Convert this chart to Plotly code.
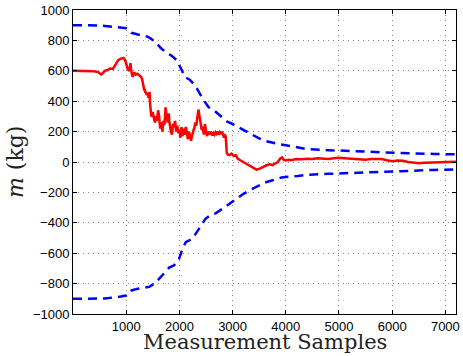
import plotly.graph_objects as go

# Estimated mass (red)
est_x = ([0, 100, 200, 300, 400, 480, 530, 560, 600, 650, 700, 750, 800, 850, 900, 950, 980, 1000,
          1030, 1060, 1080, 1100, 1120, 1150, 1180, 1210, 1250, 1280]
         + list(range(1300, 2610, 10))
         + [2620, 2640, 2660, 2680, 2700, 2720, 2740, 2760, 2780, 2800, 2820, 2840, 2860, 2870, 2880,
            2890, 2910, 2940, 2980, 3020, 3060, 3100, 3150, 3200, 3250, 3300,
            3350, 3400, 3450, 3500, 3550, 3600, 3650, 3700, 3750, 3800, 3850, 3900, 3930, 3960, 4000,
            4050, 4100, 4200, 4300, 4400, 4500, 4600, 4700, 4800, 4900, 5000, 5100, 5200, 5300, 5400,
            5500, 5600, 5700, 5800, 5900, 6000, 6100, 6200, 6300, 6400, 6500, 6600, 6700, 6800, 6900,
            7000, 7100, 7200])
est_y = [600, 600, 600, 598, 597, 590, 575, 585, 600, 605, 615, 612, 640, 670, 680, 685, 670, 640,
         610, 600, 650, 590, 560, 590, 575, 580, 570, 560,
         # 1300 .. 2600 step 10
         545, 530, 515, 490, 470, 480, 455, 460, 445, 455,
         440, 450, 420, 445, 460, 380, 320, 305, 300, 320,
         330, 305, 290, 275, 260, 285, 300, 270, 280, 310,
         340, 320, 300, 250, 220, 245, 260, 230, 200, 240,
         270, 245, 250, 300, 360, 330, 300, 280, 260, 290,
         320, 270, 230, 215, 200, 190, 180, 215, 250, 235,
         230, 255, 270, 230, 200, 225, 240, 210, 190, 205,
         210, 180, 160, 200, 230, 195, 170, 200, 220, 195,
         180, 210, 230, 215, 200, 170, 150, 180, 200, 185,
         170, 150, 140, 160, 180, 190, 200, 215, 220, 245,
         260, 250, 240, 275, 300, 330, 345, 320, 290, 275,
         260, 235, 210, 225, 230, 200, 180, 215, 250, 225,
         200, 185, 170, 190, 200, 185, 180, 195, 185, 200,
         190,
         # 2620 ..
         175, 190, 180, 195, 185, 200, 180, 195, 185, 200, 175, 160, 175, 170, 120,
         60, 50, 45, 55, 40, 45, 20, 10, 0, -15, -25,
         -35, -40, -50, -45, -35, -30, -20, -15, -20, -10, 0, 25, 30, 15, 10,
         15, 12, 20, 18, 22, 20, 25, 22, 20, 25, 28, 25, 22, 20, 18,
         15, 20, 22, 20, 12, 5, 10, 8, 0, -5, -8, -5, -3, -2, 0,
         2, 0, 2]

# Upper bound (blue dashed)
up_x = [0, 300, 600, 900, 1000, 1050, 1100, 1200, 1300, 1400, 1450, 1550, 1650, 1750, 1850, 1950,
        2050, 2100, 2200, 2300, 2400, 2450, 2550, 2650, 2800, 2900, 3000, 3100, 3200, 3300, 3400,
        3500, 3600, 3700, 3800, 3900, 4000, 4200, 4400, 4800, 5200, 5600, 6000, 6400, 6800, 7200]
up_y = [900, 900, 895, 885, 880, 870, 850, 840, 832, 825, 815, 790, 750, 720, 700, 670,
        600, 560, 540, 500, 440, 410, 360, 340, 295, 265, 250, 230, 210, 190, 170,
        155, 140, 130, 125, 115, 110, 95, 85, 78, 72, 65, 60, 56, 53, 50]

# Lower bound (blue dashed)
lo_x = [0, 300, 600, 900, 1000, 1050, 1100, 1200, 1300, 1435, 1550, 1620, 1700, 1808, 1900, 1995,
        2060, 2120, 2245, 2370, 2490, 2580, 2680, 2800, 2930, 3050, 3180, 3300, 3490, 3610, 3750,
        3920, 4230, 4360, 4800, 5200, 5480, 6000, 6400, 6800, 7200]
lo_y = [-900, -900, -898, -885, -878, -868, -845, -835, -828, -821, -795, -767, -740, -695, -680, -636,
        -570, -527, -505, -440, -374, -350, -338, -310, -277, -244, -215, -190, -157, -135, -120,
        -102, -92, -85, -78, -72, -70, -62, -57, -52, -48]

x_ticks = [1000, 2000, 3000, 4000, 5000, 6000, 7000]
y_ticks = [-1000, -800, -600, -400, -200, 0, 200, 400, 600, 800, 1000]

fig = go.Figure()
fig.add_trace(go.Scatter(x=up_x, y=up_y, mode="lines",
                         line=dict(color="#0000ff", width=2.5, dash="9px,6px")))
fig.add_trace(go.Scatter(x=lo_x, y=lo_y, mode="lines",
                         line=dict(color="#0000ff", width=2.5, dash="9px,6px")))
fig.add_trace(go.Scatter(x=est_x, y=est_y, mode="lines",
                         line=dict(color="#ff0000", width=2.5)))

axis_common = dict(showline=True, linecolor="black", linewidth=1, mirror="ticks",
                   ticks="inside", ticklen=4, tickcolor="black",
                   showgrid=True, gridcolor="#888888", gridwidth=1, griddash="1px,4px",
                   zeroline=False,
                   tickfont=dict(family="Liberation Sans, Arial", size=13, color="black"))

fig.update_layout(
    width=463, height=356,
    margin=dict(l=73, r=3, t=8, b=42),
    paper_bgcolor="white", plot_bgcolor="white",
    showlegend=False,
    xaxis=dict(range=[0, 7200], tickvals=x_ticks, **axis_common),
    yaxis=dict(range=[-1000, 1000], tickvals=y_ticks, **axis_common),
    annotations=[
        dict(text="Measurement Samples", xref="paper", yref="paper", x=0.5, y=0,
             xanchor="center", yanchor="top", yshift=-14, showarrow=False,
             font=dict(family="DejaVu Serif", size=21, color="#222222")),
        dict(text="<i>m</i> (kg)", xref="paper", yref="paper", x=0, y=0.5,
             xanchor="center", yanchor="middle", xshift=-58, textangle=-90, showarrow=False,
             font=dict(family="DejaVu Serif", size=22, color="#222222")),
    ],
)

fig.write_html("out.html")
